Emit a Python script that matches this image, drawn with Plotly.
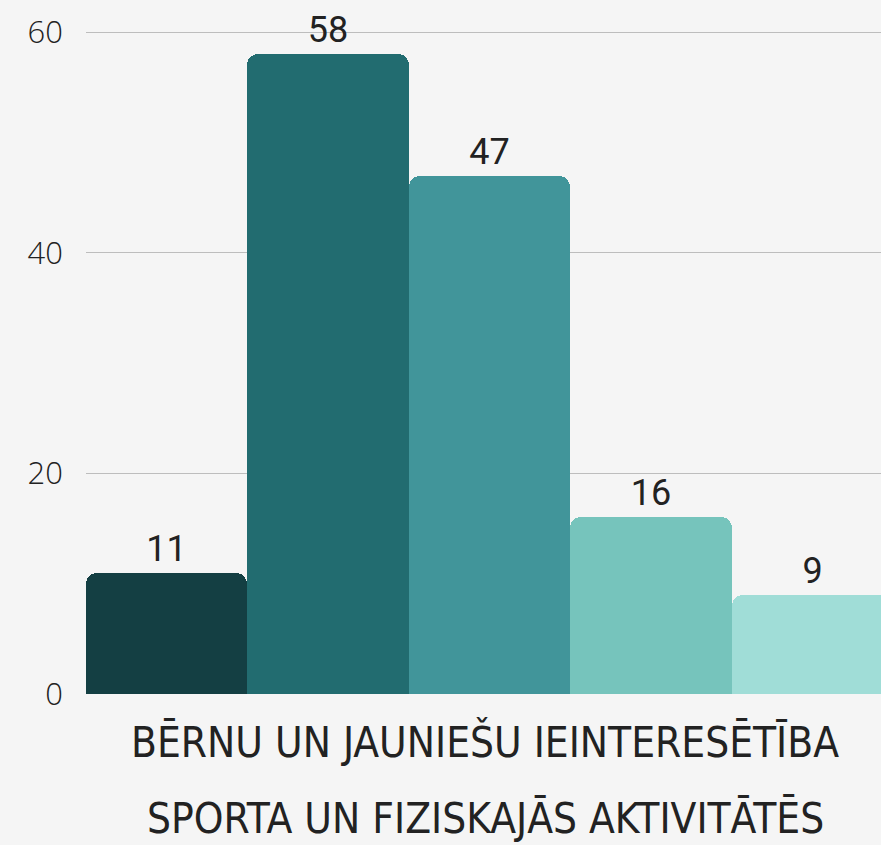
import plotly.graph_objects as go

categories = ["A", "B", "C", "D", "E"]
values = [11, 58, 47, 16, 9]
colors = ["#143f43", "#226c70", "#41959a", "#76c4bc", "#a0ddd7"]
title_lines = ["BĒRNU UN JAUNIEŠU IEINTERESĒTĪBA", "SPORTA UN FIZISKAJĀS AKTIVITĀTĒS"]
y_ticks = [0, 20, 40, 60]

fig = go.Figure(
    go.Bar(
        x=list(range(len(categories))),
        y=values,
        marker=dict(color=colors, line=dict(width=0)),
        text=[str(v) for v in values],
        textposition="outside",
        textfont=dict(family="Roboto, Arial, sans-serif", size=36, color="#222222"),
        cliponaxis=False,
        width=1,
    )
)

fig.update_layout(
    width=881,
    height=845,
    paper_bgcolor="#f5f5f5",
    plot_bgcolor="#f5f5f5",
    margin=dict(l=86, r=0, t=31, b=151),
    bargap=0,
    barcornerradius=11,
    showlegend=False,
    xaxis=dict(
        range=[-0.5, 4.423],
        showticklabels=False,
        showgrid=False,
        zeroline=False,
        showline=False,
        fixedrange=True,
    ),
    yaxis=dict(
        range=[0, 60.1],
        tickvals=y_ticks,
        ticktext=[str(t) for t in y_ticks],
        showgrid=True,
        gridcolor="#bdbdbd",
        gridwidth=1,
        zeroline=False,
        showline=False,
        ticks="",
        ticklabelstandoff=22,
        tickfont=dict(family="Open Sans, sans-serif", size=31, color="#222222", weight=300),
    ),
)

for i, line in enumerate(title_lines):
    fig.add_annotation(
        text=line,
        xref="paper",
        yref="paper",
        x=0.502,
        y=-0.072 - i * 0.1163,
        xanchor="center",
        yanchor="middle",
        showarrow=False,
        font=dict(family="DejaVu Sans Condensed, sans-serif", size=42, color="#222222"),
    )

fig.write_html(
    "out.html",
    config={"displayModeBar": False},
    post_script="document.body.style.margin='0';document.body.style.background='#f5f5f5';",
)
